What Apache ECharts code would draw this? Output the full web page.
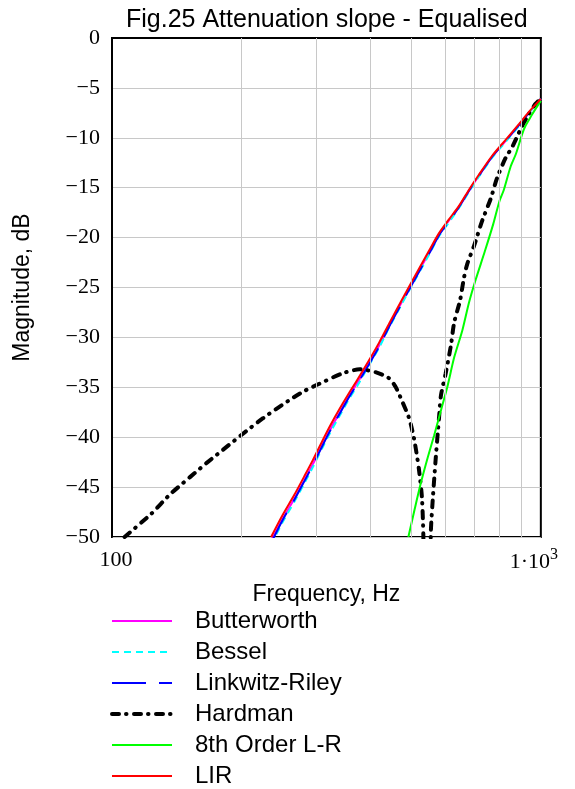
<!DOCTYPE html>
<html>
<head>
<meta charset="utf-8">
<script src="https://cdn.jsdelivr.net/npm/echarts@6/dist/echarts.min.js"></script>
<style>
  html, body { margin: 0; padding: 0; background: #fff; }
  #chart { width: 575px; height: 789px; }
</style>
</head>
<body>
<div id="chart"></div>
<script>
// Frequency points (Hz) shared by the four steep high-pass responses
const steepFreq = [235, 250, 266, 281, 294, 310, 324, 339, 358, 374, 395, 420, 443, 472, 502, 549, 578, 610, 645, 680, 717, 770, 828, 890, 938, 1000];
// Magnitudes (dB)
const butterworthDb = [-50.4, -48.2, -46.2, -44.3, -42.7, -40.7, -39.1, -37.6, -35.8, -34.5, -32.8, -30.8, -28.8, -26.6, -24.5, -21.5, -19.7, -18.3, -16.9, -15.3, -13.8, -11.9, -10.3, -8.7, -7.5, -6.1];
const besselDb      = [-50.8, -48.5, -46.5, -44.6, -43.0, -41.0, -39.4, -37.9, -36.1, -34.8, -33.0, -31.0, -29.0, -26.8, -24.7, -21.7, -19.9, -18.5, -17.0, -15.4, -13.9, -12.0, -10.4, -8.8, -7.5, -6.1];
const linkwitzDb    = [-50.6, -48.3, -46.3, -44.4, -42.8, -40.8, -39.2, -37.7, -35.9, -34.6, -32.9, -30.9, -28.9, -26.7, -24.6, -21.6, -19.8, -18.4, -16.9, -15.3, -13.8, -11.9, -10.3, -8.7, -7.5, -6.1];
const lirDb         = [-50.0, -47.8, -45.8, -43.9, -42.3, -40.3, -38.7, -37.2, -35.5, -34.2, -32.5, -30.5, -28.6, -26.4, -24.3, -21.3, -19.6, -18.2, -16.8, -15.2, -13.7, -11.8, -10.2, -8.6, -7.4, -6.1];

// Hardman response: broad hump, deep notch, then a steep rise
const hardmanFreq = [107, 124, 136, 152, 166, 181, 200, 225, 259, 280, 299, 345, 378, 413, 443, 459, 476, 493, 507, 520, 528, 532, 536, 550, 554, 559, 569, 579, 585, 600, 617, 628, 648, 662, 674, 699, 730, 764, 791, 828, 858, 905, 938, 972, 1000];
const hardmanDb   = [-50.0, -47.6, -45.8, -44.0, -42.6, -41.3, -39.8, -38.1, -36.3, -35.4, -34.8, -33.6, -33.2, -33.5, -34.1, -35.0, -36.5, -38.1, -40.3, -43.3, -46.0, -49.6, -58.0, -58.0, -49.5, -46.6, -42.0, -38.0, -35.8, -33.6, -30.8, -28.5, -26.3, -24.0, -22.6, -20.8, -18.3, -16.1, -14.0, -12.0, -10.9, -8.8, -7.6, -6.6, -6.1];

// 8th order Linkwitz-Riley
const lr8Freq = [491, 508, 525, 545, 564, 585, 605, 628, 656, 680, 705, 740, 775, 800, 820, 850, 875, 905, 921, 950, 972, 1000];
const lr8Db   = [-50.0, -47.2, -44.6, -42.0, -39.8, -37.3, -35.0, -32.0, -29.3, -26.5, -24.2, -21.4, -18.6, -16.4, -15.2, -12.9, -11.6, -9.6, -8.8, -7.8, -7.1, -6.3];

// Vertical grid positions between decades
const gridFreqs = [200, 300, 400, 500, 600, 700, 800, 900];

const seriesNames = ['Butterworth', 'Bessel', 'Linkwitz-Riley', 'Hardman', '8th Order L-R', 'LIR'];

function pairs(fs, ds) { return fs.map((f, i) => [f, ds[i]]); }

const GRID_GRAY = '#c8c8c8';
const SANS = '"Liberation Sans", Arial, sans-serif';
const SERIF = '"Liberation Serif", "Times New Roman", serif';
const HARDMAN_DASH = [7, 7, 0.5, 7.5];

function lineSeries(name, data, color, width, type, extra) {
  return Object.assign({
    name: name,
    type: 'line',
    data: data,
    symbol: 'none',
    smooth: 0.25,
    clip: true,
    z: 3,
    lineStyle: { color: color, width: width, type: type },
    itemStyle: { color: color },
    emphasis: { disabled: true }
  }, extra || {});
}

const chart = echarts.init(document.getElementById('chart'), null, { renderer: 'canvas' });

chart.setOption({
  animation: false,
  backgroundColor: '#ffffff',
  title: {
    text: 'Fig.25 Attenuation slope - Equalised',
    left: 121,
    top: 3,
    textStyle: { fontFamily: SANS, fontSize: 25, fontWeight: 'normal', color: '#000' }
  },
  grid: {
    left: 112, right: 33, top: 38, bottom: 252,
    show: true, borderColor: '#000', borderWidth: 2, backgroundColor: 'transparent'
  },
  legend: {
    orient: 'vertical',
    left: 110,
    top: 606,
    height: 190,
    padding: 0,
    itemWidth: 60,
    itemHeight: 14,
    itemGap: 1,
    data: seriesNames.map(n => n === 'Hardman'
      ? { name: n, lineStyle: { width: 4, type: HARDMAN_DASH, cap: 'round' } }
      : { name: n }),
    selectedMode: false,
    itemStyle: { opacity: 0, borderWidth: 0 },
    textStyle: { fontFamily: SANS, fontSize: 24, color: '#000', lineHeight: 24, padding: [6, 0, 0, 18] }
  },
  xAxis: {
    type: 'log',
    logBase: 10,
    min: 100,
    max: 1000,
    name: 'Frequency, Hz',
    nameLocation: 'middle',
    nameGap: 46,
    nameTextStyle: { fontFamily: SANS, fontSize: 23, color: '#000', verticalAlign: 'top' },
    axisLine: { show: true, lineStyle: { color: '#000', width: 2 } },
    axisTick: { show: false },
    splitLine: { show: false },
    axisLabel: {
      margin: 10,
      color: '#000',
      fontFamily: SERIF,
      fontSize: 22,
      formatter: function (v) {
        if (v >= 999) return '{b|1·10}{s|3}';
        return '{a|100}';
      },
      rich: {
        a: { fontFamily: SERIF, fontSize: 22, color: '#000', lineHeight: 26, padding: [0, 0, 0, 8] },
        b: { fontFamily: SERIF, fontSize: 22, color: '#000', lineHeight: 26, verticalAlign: 'bottom' },
        s: { fontFamily: SERIF, fontSize: 16, color: '#000', lineHeight: 26, verticalAlign: 'top', padding: [0, 14, 8, 0] }
      }
    }
  },
  yAxis: {
    type: 'value',
    min: -50,
    max: 0,
    interval: 5,
    name: 'Magnitude, dB',
    nameLocation: 'middle',
    nameGap: 78,
    nameRotate: 90,
    nameTextStyle: { fontFamily: SANS, fontSize: 23, color: '#000' },
    axisLine: { show: true, lineStyle: { color: '#000', width: 2 } },
    axisTick: { show: false },
    splitLine: { show: true, lineStyle: { color: GRID_GRAY, width: 1 } },
    axisLabel: {
      margin: 12,
      color: '#000',
      fontFamily: SERIF,
      fontSize: 22,
      formatter: function (v) { return v < 0 ? '\u2212' + Math.abs(v) : String(v); }
    }
  },
  series: [
    // vertical grid lines at 200…900 Hz, placed through the log axis
    {
      name: 'grid',
      type: 'line',
      data: [],
      z: 1,
      silent: true,
      markLine: {
        silent: true,
        symbol: 'none',
        animation: false,
        label: { show: false },
        emphasis: { disabled: true },
        lineStyle: { color: GRID_GRAY, width: 1, type: 'solid' },
        data: gridFreqs.map(f => ({ xAxis: f }))
      }
    },
    lineSeries('Butterworth', pairs(steepFreq, butterworthDb), '#ff00ff', 2, 'solid'),
    lineSeries('Bessel', pairs(steepFreq, besselDb), '#00ffff', 2, [7, 5]),
    lineSeries('Linkwitz-Riley', pairs(steepFreq, linkwitzDb), '#0000ff', 2, [34, 13]),
    lineSeries('Hardman', pairs(hardmanFreq, hardmanDb), '#000000', 4, HARDMAN_DASH, {
      lineStyle: { color: '#000', width: 4, type: HARDMAN_DASH, cap: 'round' }
    }),
    lineSeries('8th Order L-R', pairs(lr8Freq, lr8Db), '#00ff00', 2, 'solid'),
    lineSeries('LIR', pairs(steepFreq, lirDb), '#ff0000', 2, 'solid')
  ]
});
</script>
</body>
</html>
